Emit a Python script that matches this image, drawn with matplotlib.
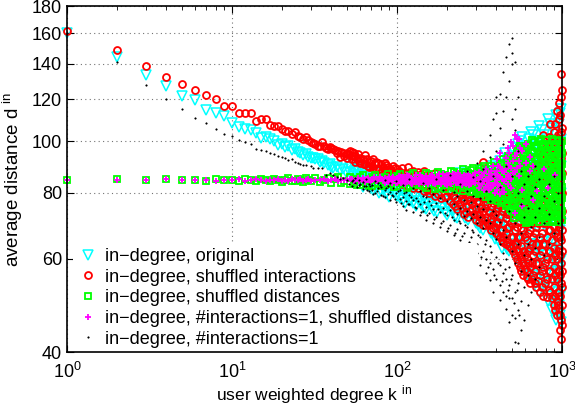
import numpy as np
import matplotlib
matplotlib.use('Agg')
import matplotlib.pyplot as plt
from matplotlib.ticker import FixedLocator, FixedFormatter, LogLocator, NullLocator

plt.rcParams['font.family'] = ['Liberation Sans', 'DejaVu Sans']
plt.rcParams['mathtext.fontset'] = 'custom'
plt.rcParams['mathtext.rm'] = 'Liberation Sans'
plt.rcParams['mathtext.it'] = 'Liberation Sans:italic'

# ---- data (k = user weighted in-degree, d = average distance)

# in-degree, original
orig_k = [1, 2, 3, 4, 5, 6, 7, 8, 9, 10, 11, 12, 13, 14, 15, 16, 17, 18, 19, 20,
          21, 22, 23, 24, 25, 26, 27, 28, 29, 30, 31, 32, 33, 34, 35, 36, 38, 39, 40, 41,
          43, 45, 47, 49]
orig_d = [160, 144.5, 133.5, 127, 122, 119.5, 114.6, 113, 111.5, 108.2, 106.2, 105.5, 105,
          103.7, 101.5, 101.8, 101, 100, 98.5, 98.8, 97.5, 97.8, 96.5, 96.7, 95.6, 95.2,
          94.2, 94.5, 93.6, 92.9, 93.2, 92.8, 92.5, 91.5, 91.8, 90.9, 90.2, 90.6, 89.5, 89,
          89.3, 88.2, 88.5, 87.6]
orig_tail = [(52, [89.5, 87]), (54, [90.5, 86.5]), (55, [88, 86]), (58, [88.5, 85.5]),
             (60, [89, 84]), (62, [87, 84.5, 82]), (64, [86, 83]), (66, [86.5, 83.5]),
             (68, [88, 85, 82.5]), (70, [87.5, 84, 81.5]), (72, [85.5, 81]), (75, [86, 82.5]),
             (78, [87, 84, 80]), (80, [85.5, 83, 80.5]), (83, [84.5, 81.5]),
             (86, [86.5, 82, 79.5]), (89, [86, 83, 78.5]), (92, [84.5, 81]), (96, [83.5, 80]),
             (100, [85.5, 82.5, 79]), (104, [85, 81, 78]), (108, [84, 80.5, 77.5]),
             (112, [83, 79.5, 76.5]), (116, [86, 82, 78.5]), (120, [84.5, 80.5, 77]),
             (125, [83.5, 79, 76.5]), (130, [82, 78.5, 75.5]), (135, [85, 81, 77]),
             (140, [84, 80, 76]), (145, [82.5, 78, 75]), (150, [81.5, 77.5, 74.5]),
             (156, [84.5, 80, 76]), (162, [83.5, 79, 75]), (168, [83, 78.5, 74]),
             (174, [81, 77.5, 73.5]), (180, [86, 80.5, 76.5]), (187, [84, 79.5, 75]),
             (195, [82, 77, 73.5]), (202, [80.5, 76, 72.5]), (210, [84.5, 79, 75]),
             (217, [83, 78, 74]), (225, [81, 76.5, 72]), (232, [80, 75.5, 71.5]),
             (240, [87, 80, 74]), (250, [84, 78.5, 73]), (260, [83, 77.5, 71.5]),
             (270, [81, 76, 71]), (280, [85, 79, 73]), (290, [83.5, 77.5, 72]),
             (300, [82, 75.5, 70]), (310, [80, 74, 69.5]), (320, [88, 80, 74, 68.5]),
             (332, [85, 78, 72.5, 68]), (345, [84, 77, 71]), (357, [82, 75.5, 70]),
             (370, [90, 81, 75, 67]), (382, [87, 79, 73, 67]), (395, [86, 78, 70.5, 65.5]),
             (407, [84, 76, 70, 65]), (420, [92, 83, 76, 69]), (435, [90, 82, 74, 67, 63]),
             (450, [95, 88, 80, 72, 64]), (465, [91, 83, 75, 68, 62.5]),
             (480, [93, 84, 74, 67, 62]), (495, [94, 85, 77, 69, 63]),
             (510, [96, 86, 78, 70, 63]), (525, [97, 87, 79, 71, 64, 61]),
             (540, [99, 89, 81, 72, 65, 60]), (557, [100, 89, 80, 72, 65, 59]),
             (575, [102, 91, 83, 74, 66, 58]), (592, [98, 88, 79, 70, 62, 57]),
             (610, [97, 87, 77, 68, 61, 56]), (630, [101, 91, 81, 72, 63, 58]),
             (650, [104, 93, 84, 75, 64, 57]), (670, [103, 92, 82, 73, 64, 56]),
             (690, [100, 90, 79, 70, 62, 54]), (710, [99, 89, 78, 69, 61, 55]),
             (730, [107, 95, 85, 73, 65, 58, 52]), (752, [105, 94, 83, 72, 63, 56, 53]),
             (775, [103, 92, 81, 71, 60, 55]), (797, [101, 90, 80, 70, 61, 54]),
             (820, [110, 97, 86, 76, 67, 57, 50]), (845, [108, 96, 85, 74, 65, 56, 51]),
             (870, [106, 94, 83, 72, 63, 53, 48]), (895, [104, 93, 82, 71, 62, 54, 49]),
             (920, [112, 99, 88, 78, 68, 59, 51, 46]), (940, [110, 98, 87, 76, 66, 57, 50]),
             (960, [108, 96, 84, 74, 64, 55, 49]), (975, [113, 100, 89, 78, 68, 58, 51, 47]),
             (990, [115, 101, 90, 80, 70, 60, 52, 45.5])]

# in-degree, shuffled interactions
shint_k = [1, 2, 3, 4, 5, 6, 7, 8, 9, 10, 11, 12, 13, 14, 15, 16, 17, 18, 19, 20,
           21, 22, 23, 24, 25, 26, 27, 28, 29, 30, 31, 32, 33, 34, 35, 36, 37, 38, 39, 40,
           41, 42, 43, 44, 45, 46, 47, 48, 49]
shint_d = [161.5, 149, 138.5, 132.2, 128.3, 125, 122.4, 120, 116.6, 116.4, 113.2, 113, 113,
           109.2, 110, 110, 107.5, 107, 107, 105.5, 104.4, 104.8, 103.4, 104, 102.5, 102,
           101.2, 101.8, 100.5, 99.8, 99.2, 99, 98.2, 98, 99.5, 97.8, 97.2, 96.6, 97.5, 97,
           96.8, 96.5, 95.2, 96, 93.5, 95.5, 95, 94, 94.6]
shint_tail = [(50, [95, 93]), (51, [94.5]), (52, [96]), (53, [95.6, 92.5]), (54, [93.8]),
              (55, [95]), (56, [94, 91.5]), (57, [92.8]), (58, [94.5]), (59, [92]),
              (60, [93, 91]), (62, [92.5]), (63, [90.8]), (64, [94.2, 90.5]), (66, [92.8]),
              (67, [90]), (68, [91.3, 89.5]), (70, [91.8]), (71, [89.8]), (72, [92.5, 89]),
              (74, [90.6]), (75, [91.6, 88.5]), (77, [91.2]), (78, [88.8]), (80, [90.5, 87.5]),
              (82, [89.6]), (84, [91, 88]), (86, [90.2]), (87, [87.8]), (88, [89.4, 86.5]),
              (91, [88.6]), (94, [90, 87, 84.5]), (97, [89.2]), (98, [86.4]), (100, [88.5, 85]),
              (103, [88]), (104, [85.6]), (107, [89, 86.5, 83]), (110, [87.2]), (112, [84.2]),
              (116, [89.4, 86, 82.5]), (120, [87.6]), (121, [83.8]), (125, [88, 84.5, 81.5]),
              (130, [86.5]), (131, [82.8]), (134, [87.5, 83.5, 81.5]), (140, [86.8]),
              (141, [82.2]), (145, [88, 85, 80.5]), (150, [85.8]), (152, [81]),
              (157, [86.5, 82.5, 79.8]), (163, [85.2]), (164, [80.6]), (170, [87, 83, 79]),
              (177, [84.6]), (178, [79.5]), (185, [85.5, 81.5, 78]), (190, [84]),
              (195, [86, 82, 78.5]), (202, [82.5, 78.8]), (210, [84, 80.5, 77]),
              (217, [83, 79, 76]), (225, [85, 81, 78, 75.5]), (232, [82.5, 77.5, 74.5]),
              (240, [83, 79.5, 76]), (247, [81.5, 78, 75]), (255, [84.5, 80, 77, 73]),
              (262, [83, 79.5, 75.5, 73.5]), (270, [82, 78.5, 72]), (277, [80.5, 77, 74]),
              (285, [85, 80, 76, 74.5]), (292, [82.5, 78, 73]), (300, [83, 79, 75, 71]),
              (307, [81, 77, 72.5]), (315, [84, 80.5, 77, 73, 70.5]),
              (322, [82, 78.5, 75, 71.5]), (330, [91.3, 82, 78, 74, 69.5]),
              (340, [83, 79, 75, 71, 69.5]), (350, [85, 80, 76, 72, 70]),
              (360, [81.5, 77.5, 73.5, 69.5]), (370, [83, 79, 75.5, 71.5, 68]),
              (380, [84, 80, 76.5, 72.5, 68.5]), (390, [86, 81, 77, 73, 69]),
              (400, [82, 78, 74, 70, 67]), (410, [84, 79.5, 75, 70.5, 66.5]),
              (420, [85, 80.5, 76.5, 72, 68, 66]), (430, [87, 82, 78, 74, 68, 65]),
              (442, [83, 79, 75, 70, 66, 64.5]), (455, [85, 80, 76, 71.5, 67, 64]),
              (467, [86, 81.5, 77, 73, 68.5, 64.5]), (480, [88, 83, 78.5, 73, 69, 63.5]),
              (492, [84, 79.5, 75, 70, 66, 63]), (505, [86, 81, 76, 71, 66, 62, 63.4]),
              (517, [87, 82, 77.5, 73, 68, 64, 61]), (530, [93, 84, 79, 74, 69, 64, 60]),
              (542, [85, 80, 75.5, 70.5, 66, 62, 59]), (555, [87, 82, 77, 72, 66, 61, 58]),
              (567, [88, 83, 78, 73.5, 68.5, 63.5, 60, 57]),
              (580, [89, 84, 79, 73, 68, 62, 59, 56]), (595, [85, 80, 75, 70, 66, 61, 57.5]),
              (610, [86, 81, 76, 70, 65, 60, 57, 55.5]), (625, [89, 83, 78, 72.5, 67, 62, 59, 55]),
              (640, [91, 85, 79, 74, 68, 63, 58, 54]), (655, [86, 81, 75, 70, 64, 59, 55]),
              (670, [88, 83, 77, 71, 66, 61, 56]), (685, [90, 84, 78, 73, 67, 62, 57, 54]),
              (700, [93, 86, 80, 75, 69, 64, 59, 53]), (718, [87, 82, 76, 70, 64, 59, 54.5]),
              (735, [90, 84, 78, 72, 66, 61, 56, 52]), (752, [91, 85, 79, 73, 67, 62, 57, 53]),
              (770, [103, 95, 87, 81, 75, 70, 64, 58, 51]),
              (790, [95, 88, 82, 76, 70, 64, 59, 54]),
              (810, [98, 89, 83, 77, 72, 66, 60, 55, 50.8]),
              (830, [102, 93, 86, 80, 74, 68, 62, 57, 52.5]),
              (850, [108, 100, 92, 85, 79, 73, 68, 62, 57, 52]),
              (870, [97, 90, 83, 77, 71, 65, 60, 55, 50.5]),
              (890, [104, 94, 88, 81, 75, 69, 63, 58, 53, 49]),
              (910, [108, 99, 92, 85, 79, 73, 67, 61, 56, 51, 48]),
              (930, [114, 101, 91, 84, 78, 72, 66, 60, 55, 50, 47]),
              (945, [103, 94, 87, 80, 74, 68, 62, 57, 52, 49]),
              (960, [118, 110, 97, 88, 81, 75, 69, 63, 57, 52, 48.4]),
              (975, [112, 100, 91, 84, 77, 71, 66, 61, 56, 51, 47, 44]),
              (985, [134, 121, 104, 93, 86, 79, 72, 65, 59, 54, 46, 42.3]),
              (1000, [125, 106, 95, 87, 80, 74, 68, 62, 57, 53, 49, 45])]

# in-degree, shuffled distances
shdist_k = [1, 2, 3, 4, 5, 6, 7, 8, 9, 10, 11, 12, 13, 14, 15, 16, 17, 18, 19, 20,
            21, 22, 23, 24, 25, 26, 27, 28, 29, 30, 32, 34, 36, 38, 40, 42, 44, 46, 48]
shdist_d = [84.6, 84.8, 84.5, 85.0, 84.5, 84.6, 84.3, 84.9, 84.4, 84.7, 84.2, 84.8, 84.5,
            84.1, 85.0, 84.6, 84.2, 84.9, 84.4, 83.9, 84.7, 85.2, 84.3, 84.0, 84.8, 84.5,
            83.7, 85.1, 84.4, 84.0, 85.3, 83.8, 84.6, 85.4, 83.6, 84.9, 85.5, 83.5, 84.3]
shdist_tail = [(52, [85.8, 83.2]), (55, [84.8, 83.6]), (57, [84.4, 82.6]), (60, [85.6, 82.8]),
               (62, [86.2, 83.8]), (65, [84.2, 83]), (68, [85, 82.4]), (71, [85.6, 82.4]),
               (74, [86.4, 83.6]), (77, [84.6, 83]), (80, [84.8, 82.2]), (84, [85.8, 82.6]),
               (88, [86.6, 83.4]), (92, [84.2, 83.2]), (96, [85.2, 82]), (100, [86, 82.4]),
               (105, [86.8, 83.6]), (110, [85.4, 83]), (115, [84.6, 81.8]), (120, [86.2, 82.2]),
               (125, [87, 85, 82.6]), (131, [84.2, 82.8]), (137, [86, 83.2]),
               (143, [85.6, 82.4]), (150, [87.2, 84.4, 81.6]), (156, [86.6, 83.2]),
               (163, [85.6, 82.8]), (170, [84.6, 81.4]), (178, [87.6, 84.8, 82]),
               (186, [86.6, 83.6, 81.6]), (195, [86.4, 83.4, 81.2]), (203, [85, 82.6]),
               (212, [88, 85.2, 82.2]), (221, [87.4, 84.6, 81.6]), (230, [86.8, 84, 81]),
               (240, [85.6, 82.8]), (250, [88.6, 85.6, 82.6, 80.5]), (260, [87.6, 84.6, 81.6]),
               (270, [87.2, 84.2, 81.5]), (280, [88.4, 85.4, 82.4, 80.2]),
               (290, [89.2, 86, 83, 80.2]), (301, [86.8, 83.8, 80.6]),
               (312, [87.8, 84.6, 81.8, 79.5]), (323, [89, 85.6, 82.4, 79.8]),
               (335, [90, 86.6, 83.4, 80.4]), (347, [87.4, 84.2, 81, 78.6]),
               (360, [88.6, 85.2, 82, 79]), (372, [90, 86.6, 83.2, 80, 77.6]),
               (385, [91.5, 87.5, 84, 80.8, 78]), (397, [88.6, 85, 81.6, 78.4]),
               (410, [89.5, 86, 82.5, 79.2, 77]), (425, [91, 87.2, 83.6, 80.2, 76.5]),
               (440, [92.5, 88.5, 84.5, 81, 77.5]), (455, [89.5, 86, 82, 78.5, 75.5]),
               (470, [94, 90, 86, 82.5, 79, 76]), (485, [93, 89, 85, 81.5, 77.5, 74.5]),
               (500, [92.2, 88, 84, 80, 76.5, 74]), (515, [94, 90, 86, 82, 78, 74, 71.5]),
               (530, [96, 91, 87, 83, 79, 75, 72.5]), (545, [97, 92, 88, 84, 80, 76, 72.5]),
               (560, [98, 93, 88.5, 84.5, 80.5, 76.5, 73]),
               (575, [96.5, 92, 87.5, 83.5, 79.5, 75.5, 72]),
               (590, [95, 90.5, 86, 82, 78, 74, 71]),
               (605, [97, 92.5, 88, 84, 80, 76, 72, 70]),
               (620, [99, 94, 89.5, 85, 81, 77, 73, 70.5]),
               (637, [98, 93.5, 89, 85, 81, 77, 73, 70.5]),
               (655, [100.5, 96, 91, 87, 82.5, 78.5, 74.5, 71]),
               (672, [99.5, 95, 90, 86, 82, 78, 74, 71]),
               (690, [98, 93, 88.5, 84, 80, 76, 72.5]),
               (707, [97, 92, 87.5, 83, 79, 75, 71.5]),
               (725, [100, 95, 90.5, 86, 81.5, 77.5, 73.5, 70.5]),
               (745, [101, 96, 91.5, 87, 83, 79, 75, 71.5]),
               (765, [99, 94, 89, 85, 80.5, 76.5, 72.5]),
               (785, [97.5, 93, 88, 84, 80, 76, 72]),
               (805, [100.5, 96, 91.5, 87, 82.5, 78.5, 74.5, 71]),
               (825, [99, 94.5, 90, 86, 81.5, 77.5, 73.5, 70.5]),
               (845, [98, 93.5, 89, 84.5, 80, 76, 72.5]),
               (865, [101, 96.5, 92, 87.5, 83, 79, 75, 71]),
               (885, [100, 95, 90.5, 86, 81.5, 77.5, 73.5, 70.5]),
               (905, [97.5, 93, 88.5, 84, 80, 76, 72.5]),
               (925, [99, 94, 89.5, 85, 80.5, 76.5, 72]),
               (943, [100, 95.5, 91, 86.5, 82, 78, 74, 70.5]),
               (960, [100.5, 96, 91, 87, 82.5, 78, 74, 71]),
               (975, [99, 94.5, 90, 85.5, 81.5, 77.5, 73.5]),
               (990, [98, 93, 88.5, 84, 80, 76, 72.5]),
               (1000, [100, 95, 90.5, 86, 82, 78, 74, 71])]

# in-degree, #interactions=1, shuffled distances
one_sh_k = [1, 2, 3, 4, 5, 6, 7, 8, 9, 10, 11, 12, 13, 14, 15, 16, 17, 18, 19, 20,
            21, 22, 23, 24, 25, 26, 27, 28, 29, 30, 32, 34, 36, 38, 40, 42, 44, 46, 48]
one_sh_d = [84.5, 84.7, 84.4, 84.9, 84.4, 84.5, 84.6, 84.3, 84.7, 84.5, 84.8, 84.3, 84.6,
            84.9, 84.4, 84.2, 84.7, 84.5, 84.9, 84.3, 84.6, 84.1, 84.8, 84.4, 84.6, 84.9,
            84.2, 84.5, 84.8, 84.3, 84.7, 84.4, 84.9, 84.2, 84.6, 84.8, 84.3, 84.7, 84.5]
one_sh_tail = [(50, [84.4]), (52, [84.8]), (53, [85]), (55, [84.2]), (56, [84.6]),
               (58, [85.2]), (59, [84]), (61, [84.5]), (62, [85.4]), (64, [83.9]),
               (65, [84.8]), (67, [85.4]), (69, [83.8]), (71, [84.6]), (73, [85.6]),
               (75, [84.1]), (77, [84.2]), (79, [85.6]), (81, [85]), (83, [84.4]),
               (85, [83.6, 85.4]), (88, [83.8, 85]), (90, [85.8, 84.2]), (93, [85.2, 83.6]),
               (95, [84.4, 85.8]), (98, [84.7, 83.4]), (100, [83.4, 85.4]), (103, [84, 86]),
               (106, [85.6, 83.6]), (109, [85.7, 84.2]), (112, [84.2, 83.2]),
               (115, [84.5, 86.2]), (118, [86, 84.2]), (121, [83.6, 85.2]),
               (124, [83.2, 84.8]), (128, [85.4, 83.8]), (131, [84.6, 86.2]),
               (135, [84.8, 83.2]), (138, [86.2, 84.4]), (142, [83.8, 85.6]),
               (146, [83.4, 84.8]), (150, [85.9, 84.2]), (154, [84.8, 83]),
               (158, [84.3, 86]), (162, [86.4, 84.6]), (166, [83.4, 85.4]),
               (170, [83, 84.8]), (175, [85.6, 83.8]), (180, [85.2, 86.6]), (185, [84.6, 83]),
               (190, [86.6, 84.2]), (195, [83.2, 85.4]), (200, [82.8, 84.6, 86.4]),
               (206, [86.2, 84]), (211, [85, 83]), (217, [84.9, 86.6]), (223, [86.8, 84.4]),
               (229, [83.4, 85.6]), (235, [83.6, 85.4, 87]), (241, [85.8, 84]),
               (247, [82.6, 84.6]), (254, [84.2, 86.2]), (261, [85.4, 83.2]),
               (268, [86.6, 84.6]), (275, [84, 82.6, 86]), (282, [83, 85.2]),
               (290, [86.2, 84.2]), (297, [85.4, 83.4, 87.2]), (312, [87.5, 84.5, 81.8]),
               (320, [85.8, 83]), (328, [86, 83.2]), (337, [87, 84, 81]), (345, [88.5, 85, 82]),
               (354, [84.8, 82.4]), (363, [86.8, 83.6, 80.8]), (372, [88, 85.4, 81.6]),
               (382, [90, 85.8, 82.6]), (392, [86.6, 83, 80]), (402, [88, 84.4, 81, 92.5]),
               (412, [90, 86, 82.8]), (423, [95, 89.5, 85.8, 82.2, 79.5]),
               (434, [88, 85, 81.5]), (445, [87.5, 84, 80.2]), (456, [93, 88.5, 85]),
               (468, [97, 91, 86.5, 83]), (480, [95, 90, 86]),
               (492, [99.6, 89, 85, 81.5]), (505, [98, 92, 87]),
               (518, [103, 94, 87.5, 73.3]), (531, [101, 95, 89]),
               (545, [101, 92, 86]), (559, [97, 90]), (574, [96, 80.9, 75.5]),
               (604, [99, 91]), (636, [93.5, 88]), (670, [90, 77.5]),
               (705, [80.6]), (781, [88.5]), (822, [81.7]), (910, [86.5])]

# in-degree, #interactions=1
one_k = [1, 2, 3, 4, 5, 6, 7, 8, 9, 10, 11, 12, 13, 14, 15, 16, 17, 18, 19, 20,
         21, 22, 23, 24, 25, 26, 27, 28, 30, 31, 33, 35, 37, 39, 41, 43, 45, 47, 50]
one_d = [160, 141, 127.6, 120.2, 115, 110.9, 108.2, 105.4, 103.3, 102.2, 100.6, 99.5, 98.8,
         96.7, 96.2, 95.8, 95.2, 94.5, 93.7, 93.4, 92.9, 92.2, 92.8, 91.6, 91, 90.8, 90.1,
         90.4, 89.8, 89.2, 89, 89, 86.4, 87.2, 86.5, 85.6, 85, 85.4, 84.6]
one_tail = [(51, [83.2]), (53, [84, 82.5]), (54, [84.6]), (56, [83.3, 85.2]), (57, [82]),
            (59, [82.6, 84.4]), (60, [83.2]), (62, [81.3, 83.8]), (63, [82.4]),
            (65, [82.2, 84.8]), (66, [81]), (68, [80.5, 83]), (69, [82.5]), (71, [80.9, 82.6]),
            (72, [79.5]), (74, [79.8, 84]), (76, [80.5]), (77, [81.5, 83.4]), (79, [82.8]),
            (80, [79.2, 82]), (82, [79]), (84, [78.5, 80.8, 84.6]), (86, [81.5]),
            (88, [79.6, 82.2]), (91, [77.5, 80.3, 83.4]), (93, [79.2]), (95, [78.8, 81.6]),
            (97, [77.8]), (99, [76.8, 79.8, 84.2]), (101, [80.5]), (104, [77.9, 81]),
            (106, [76.5]), (109, [75.5, 78.6, 82.8]), (111, [79.8]), (114, [74.2, 77.2, 80.4]),
            (116, [76.2]), (119, [76, 79.2, 85]), (122, [78.5]), (125, [73.6, 77.5, 81.8]),
            (128, [75.3]), (131, [75, 78.2]), (134, [77]), (137, [72.5, 76.3, 80.5]),
            (140, [73.5]), (143, [74, 79, 83.6]), (146, [76.8]), (150, [71, 75.2, 78.5]),
            (153, [72.6]), (157, [73.2, 77, 81.5]), (160, [75.8]), (165, [70.2, 74.5, 79.6]),
            (168, [71.4]), (173, [72, 76.5, 84.8]), (177, [74.6]), (182, [68.9, 73.4, 78]),
            (186, [70.2]), (191, [70.6, 75, 81]), (195, [73.2]), (200, [67.8, 72.6, 77.2]),
            (205, [68.6]), (210, [69.5, 74.2, 86.5]), (215, [72]), (220, [66.5, 71, 76, 80.2]),
            (225, [67.2]), (231, [68.2, 73, 78.8]), (236, [70.6]), (242, [65, 70, 75, 83]),
            (248, [66.2]), (254, [67, 72.2, 77.5]), (260, [69.6]),
            (266, [63.5, 69, 74, 80.5, 88]), (272, [64.5]), (279, [66, 71.5, 76.8]),
            (284, [68]), (290, [61.6, 67.5, 73, 79, 85.5]), (297, [63]),
            (305, [61.6, 64, 70, 75.5, 91]), (311, [66.5]), (318, [58.5, 66, 72, 78, 84]),
            (325, [60.5]), (332, [62, 68.5, 74.5, 88.5, 96]), (340, [64]),
            (347, [56.5, 60, 65.2, 71, 80.5]), (355, [58]),
            (365, [54.7, 59, 63.5, 70, 77, 93.6, 103]), (372, [61.8]),
            (380, [57.5, 52, 67, 74, 86, 110]), (389, [56]),
            (398, [55, 60.5, 65.5, 72.5, 96, 113, 121]), (408, [59]),
            (420, [50.2, 53.5, 58.5, 64, 70.5, 82, 106, 123]), (430, [54.5]),
            (440, [52, 56.5, 61.5, 68, 99, 114, 135]), (450, [57.5]),
            (460, [48.2, 51, 55, 60, 66, 90, 144, 121]), (470, [52.5]),
            (480, [45.6, 50.5, 53.5, 58, 74, 130, 153]), (490, [55]),
            (500, [50.5, 47, 56, 62, 86, 140, 147, 157, 110]), (510, [49.5]),
            (520, [46.3, 41.8, 52, 59, 70, 105, 141, 115]), (530, [52.5]),
            (540, [41.6, 48, 54, 64, 80, 121, 96]), (552, [47]), (565, [44, 50, 57, 67, 76, 88]),
            (590, [46, 53, 61, 72, 83]), (620, [49, 56, 64, 75, 86]), (650, [52, 60, 69, 79]),
            (690, [55, 63, 72, 82, 90]), (730, [58, 66, 75, 85]), (780, [61, 70, 79]),
            (830, [64, 73, 83]), (890, [67, 77, 86]), (950, [70, 80])]

labels = ['in\u2212degree, original',
          'in\u2212degree, shuffled interactions',
          'in\u2212degree, shuffled distances',
          'in\u2212degree, #interactions=1, shuffled distances',
          'in\u2212degree, #interactions=1']


def join(k, d, tail):
    '''sparse part plus the crowded high-degree part'''
    kk = list(k)
    dd = list(d)
    for kv, vals in tail:
        kk += [kv] * len(vals)
        dd += vals
    return np.array(kk), np.array(dd)


def main():
    fig = plt.figure(figsize=(5.75, 4.08), dpi=100)
    ax = fig.add_axes([0.1165, 0.137, 0.8609, 0.848])

    series = [
        (join(orig_k, orig_d, orig_tail), dict(marker='v', color='#00ffff', ms=7.5, mew=1.1)),
        (join(shint_k, shint_d, shint_tail), dict(marker='o', color='#ff0000', ms=5, mew=1.3)),
        (join(shdist_k, shdist_d, shdist_tail), dict(marker='s', color='#00ff00', ms=5, mew=1.3)),
        (join(one_sh_k, one_sh_d, one_sh_tail), dict(marker='+', color='#ff00ff', ms=5, mew=1.3)),
        (join(one_k, one_d, one_tail), dict(marker='.', color='black', ms=2, mew=0.5)),
    ]
    for ((k, d), st), lab in zip(series, labels):
        ax.plot(k, d, linestyle='none', marker=st['marker'], markersize=st['ms'],
                markeredgewidth=st['mew'], markeredgecolor=st['color'],
                markerfacecolor='none' if st['marker'] != '.' else st['color'],
                label=lab, clip_on=False)

    ax.set_xscale('log')
    ax.set_yscale('log')
    ax.set_xlim(1, 1000)
    ax.set_ylim(40, 180)
    yt = [40, 60, 80, 100, 120, 140, 160, 180]
    ax.yaxis.set_major_locator(FixedLocator(yt))
    ax.yaxis.set_major_formatter(FixedFormatter([str(v) for v in yt]))
    ax.yaxis.set_minor_locator(NullLocator())
    ax.xaxis.set_minor_locator(LogLocator(base=10, subs=np.arange(2, 10)))

    ax.tick_params(which='both', direction='in', top=True, right=True, labelsize=13)
    ax.tick_params(which='major', length=5, width=0.8)
    ax.tick_params(which='minor', length=3, width=0.6)
    ax.tick_params(axis='x', pad=7)
    for sp in ax.spines.values():
        sp.set_linewidth(1.2)
        sp.set_zorder(3)
    ax.grid(True, which='major', linestyle=(0, (1, 3)), color='0.45', linewidth=0.8)
    ax.set_axisbelow(True)

    ax.set_xlabel('user weighted degree k $^{\\rm in}$', fontsize=12.5, labelpad=1)
    ax.set_ylabel('average distance d $^{\\rm in}$', fontsize=13.5, labelpad=5)

    leg = ax.legend(loc='lower left', bbox_to_anchor=(0.005, -0.013), fontsize=13,
                    frameon=True, handlelength=1.0, handletextpad=0.45,
                    labelspacing=0.2, borderpad=0.3, borderaxespad=0.2)
    leg.get_frame().set_facecolor('white')
    leg.get_frame().set_edgecolor('none')
    leg.get_frame().set_alpha(1)
    # keep the white legend box under the axes frame so the bottom spine stays visible
    leg.set_zorder(2.5)

    fig.savefig('out.png', dpi=100)


if __name__ == '__main__':
    main()
